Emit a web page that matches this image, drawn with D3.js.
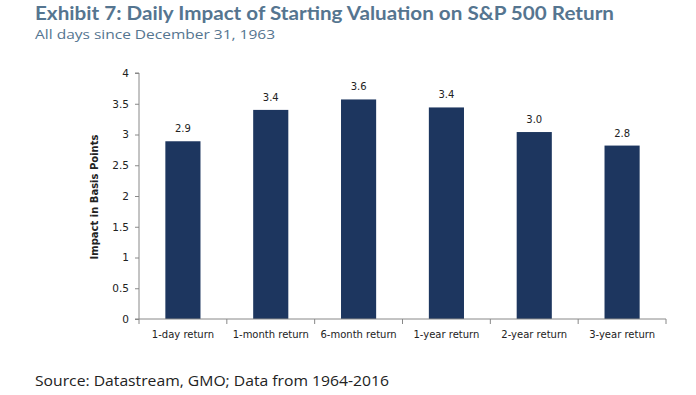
<!DOCTYPE html>
<html><head><meta charset="utf-8">
<script src="https://cdn.jsdelivr.net/npm/d3@7"></script>
<style>body{margin:0;background:#fff}svg{display:block}</style>
</head><body>
<svg id="c" width="696" height="395"></svg>
<script>
const categories = ["1-day return","1-month return","6-month return","1-year return","2-year return","3-year return"];
const values = [2.89, 3.40, 3.57, 3.44, 3.04, 2.82];
const valueLabels = ["2.9","3.4","3.6","3.4","3.0","2.8"];
const yTicks = [0,0.5,1,1.5,2,2.5,3,3.5,4];

const svg = d3.select("#c");
const m = {left:139, right:666, top:73, bottom:319};
const x = d3.scaleBand().domain(categories).range([m.left, m.right]).paddingInner(0.6).paddingOuter(0.3);
const xb = d3.scaleBand().domain(categories).range([m.left, m.right]);
const y = d3.scaleLinear().domain([0,4]).range([m.bottom, m.top]);

svg.append("text").attr("x",35).attr("y",20).attr("font-family","Lato, 'Open Sans', sans-serif")
  .attr("font-weight","bold").attr("font-size",18).attr("fill","#557590")
  .attr("textLength",579).attr("lengthAdjust","spacingAndGlyphs")
  .text("Exhibit 7: Daily Impact of Starting Valuation on S&P 500 Return");
svg.append("text").attr("x",35).attr("y",38.5).attr("font-family","'Liberation Sans Narrow','Open Sans', sans-serif")
  .attr("font-size",13).attr("fill","#557590")
  .attr("textLength",240).attr("lengthAdjust","spacingAndGlyphs")
  .text("All days since December 31, 1963");

// bars
svg.selectAll("rect.bar").data(categories).join("rect").attr("class","bar")
  .attr("x",d=>x(d)).attr("width",x.bandwidth())
  .attr("y",(d,i)=>y(values[i])).attr("height",(d,i)=>y(0)-y(values[i]))
  .attr("fill","#1d365f");

svg.selectAll("text.vl").data(categories).join("text").attr("class","vl")
  .attr("x",d=>x(d)+x.bandwidth()/2).attr("y",(d,i)=>y(values[i])-9)
  .attr("text-anchor","middle").attr("font-family","'DejaVu Sans', sans-serif").attr("font-size",10)
  .attr("fill","#222").text((d,i)=>valueLabels[i]);

// y axis
const ya = svg.append("g").attr("transform",`translate(${m.left},0)`)
  .call(d3.axisLeft(y).tickValues(yTicks).tickSize(4).tickFormat(d3.format("~g")));
ya.select(".domain").attr("stroke","#888").attr("d",`M-4,${m.top}H0V${m.bottom}H-4`);
ya.selectAll(".tick line").attr("stroke","#888");
ya.selectAll(".tick text").attr("font-family","'DejaVu Sans', sans-serif").attr("font-size",10.5).attr("fill","#222").attr("x",-10);

// x axis
const xa = svg.append("g").attr("transform",`translate(0,${m.bottom})`);
xa.append("line").attr("x1",m.left).attr("x2",m.right).attr("stroke","#888");
const bounds = categories.map(d=>xb(d)).concat([m.right]);
xa.selectAll("line.t").data(bounds).join("line").attr("class","t")
  .attr("x1",d=>d).attr("x2",d=>d).attr("y1",0).attr("y2",5).attr("stroke","#888");
xa.selectAll("text").data(categories).join("text")
  .attr("x",d=>xb(d)+xb.bandwidth()/2).attr("y",19).attr("text-anchor","middle")
  .attr("font-family","'DejaVu Sans', sans-serif").attr("font-size",10).attr("fill","#222").text(d=>d);

svg.append("text").attr("transform","translate(98,197) rotate(-90)").attr("text-anchor","middle")
  .attr("font-family","'DejaVu Sans', sans-serif").attr("font-weight","bold").attr("font-size",10)
  .attr("fill","#222").text("Impact in Basis Points");

svg.append("text").attr("x",35).attr("y",386).attr("font-family","'Open Sans', sans-serif")
  .attr("font-size",14.5).attr("fill","#222")
  .attr("textLength",354).attr("lengthAdjust","spacingAndGlyphs")
  .text("Source:  Datastream, GMO; Data from 1964-2016");
</script>
</body></html>
